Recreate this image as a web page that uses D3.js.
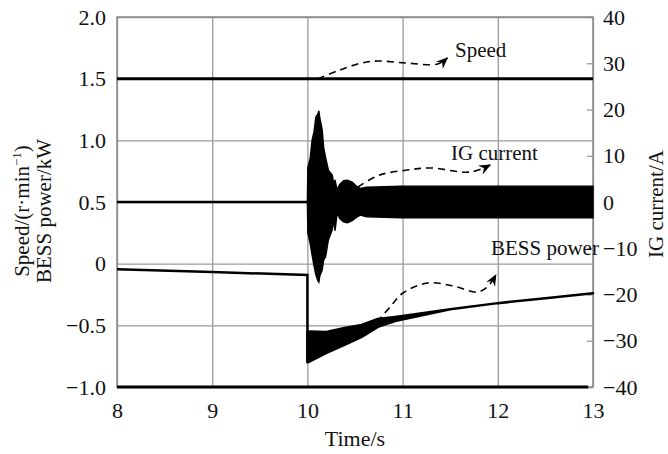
<!DOCTYPE html>
<html>
<head>
    <meta charset="utf-8">
    <title></title>
    <style>
        body { margin: 0; background: #fff; }
        text { font-family: "Liberation Serif", "Times New Roman", serif; fill: #111; }
        .grid line { stroke: #9a9a9a; stroke-width: 1.3px; }
        .grid path { display: none; }
    </style>
</head>
<body>
<script src="https://cdn.jsdelivr.net/npm/d3@7/dist/d3.min.js"></script>
<script>
    var width  = 668;
    var height = 454;

    // axes
    const timeTicks  = [8, 9, 10, 11, 12, 13];
    const leftTicks  = [-1.0, -0.5, 0, 0.5, 1.0, 1.5, 2.0];
    const rightTicks = [-40, -30, -20, -10, 0, 10, 20, 30, 40];

    // speed (left axis)
    const speedT = [8, 13];
    const speedV = [1.5, 1.5];

    // IG current (right axis) - steady line before fault, then envelope of the oscillation
    const igLineT = [8, 10];
    const igLineV = [0, 0];
    const igEnvT   = [10.0, 10.005, 10.03, 10.05, 10.07, 10.09, 10.11, 10.12, 10.13, 10.155, 10.17, 10.19, 10.22, 10.26, 10.28, 10.29, 10.31, 10.32, 10.34, 10.38, 10.42, 10.47, 10.51, 10.56, 10.62, 11.0, 12.0, 13.0];
    const igUpper  = [0, 7.4, 9.5, 13.4, 15.2, 18.4, 19.0, 19.7, 18.2, 15.6, 11.8, 9.7, 6.9, 5.8, 3.6, 4.8, 2.6, 3.0, 3.8, 4.6, 4.7, 4.3, 3.5, 2.9, 3.2, 3.4, 3.4, 3.4];
    const igLower  = [0, -6.7, -9.0, -11.5, -13.8, -15.8, -17.0, -17.3, -16.0, -14.7, -12.5, -11.9, -8.2, -6.0, -3.8, -6.2, -2.8, -2.6, -3.6, -4.3, -4.5, -4.0, -3.4, -2.8, -3.2, -3.4, -3.4, -3.4];

    // BESS power (left axis)
    const bessPreT = [8, 9, 10, 10];
    const bessPreV = [-0.045, -0.068, -0.092, -0.80];
    const bessEnvT  = [10.0, 10.02, 10.2, 10.39, 10.57, 10.74, 10.92, 11.13, 11.5, 12.0, 12.5, 13.0];
    const bessUpper = [-0.55, -0.551, -0.554, -0.521, -0.497, -0.448, -0.432, -0.41, -0.37, -0.32, -0.28, -0.24];
    const bessLower = [-0.80, -0.795, -0.724, -0.659, -0.594, -0.513, -0.465, -0.43, -0.37, -0.32, -0.28, -0.24];

    // trace lying on the bottom edge
    const baseT = [8, 12.95];
    const baseV = [-1.0, -1.0];

    // annotations (left axis units)
    const speedNoteT = [10.11, 10.34, 10.57, 10.74, 11.03, 11.37, 11.47];
    const speedNoteV = [1.50, 1.57, 1.627, 1.643, 1.627, 1.619, 1.668];
    const igNoteT = [10.53, 10.76, 11.05, 11.29, 11.71, 11.92];
    const igNoteV = [0.622, 0.719, 0.759, 0.776, 0.743, 0.80];
    const bessNoteT = [10.73, 10.87, 11.0, 11.26, 11.53, 11.78, 11.89, 11.98];
    const bessNoteV = [-0.473, -0.35, -0.24, -0.157, -0.18, -0.23, -0.19, -0.09];

    var margin = {left: 117, right: 75, top: 17, bottom: 67};
    var plotW = width - margin.left - margin.right;
    var plotH = height - margin.top - margin.bottom;

    var svg = d3.select("body").append("svg")
        .attr("width", width)
        .attr("height", height);

    var x  = d3.scaleLinear().domain([8, 13]).range([margin.left, margin.left + plotW]);
    var yL = d3.scaleLinear().domain([-1, 2]).range([margin.top + plotH, margin.top]);
    var yR = d3.scaleLinear().domain([-40, 40]).range([margin.top + plotH, margin.top]);

    var fmtL = function(d){ return d === 0 ? "0" : d3.format(".1f")(d); };

    // grids + tick labels
    svg.append("g").attr("class", "grid")
        .attr("transform", "translate(" + margin.left + ",0)")
        .call(d3.axisLeft(yL).tickValues(leftTicks).tickFormat(fmtL).tickSize(-plotW).tickPadding(11))
        .selectAll("text").attr("font-size", "22px");

    svg.append("g").attr("class", "grid")
        .attr("transform", "translate(0," + (margin.top + plotH) + ")")
        .call(d3.axisBottom(x).tickValues(timeTicks).tickFormat(d3.format("d")).tickSize(-plotH).tickPadding(15))
        .selectAll("text").attr("font-size", "22px");

    svg.append("g").attr("class", "grid")
        .attr("transform", "translate(" + (margin.left + plotW) + ",0)")
        .call(d3.axisRight(yR).tickValues(rightTicks).tickSize(-6).tickPadding(10))
        .selectAll("text").attr("font-size", "22px");

    // frame
    svg.append("rect")
        .attr("x", margin.left).attr("y", margin.top)
        .attr("width", plotW).attr("height", plotH)
        .attr("fill", "none").attr("stroke", "#8a8a8a").attr("stroke-width", 1.5);

    var zipL = function(ts, vs){ return ts.map(function(t,i){ return [x(t), yL(vs[i])]; }); };
    var zipR = function(ts, vs){ return ts.map(function(t,i){ return [x(t), yR(vs[i])]; }); };
    var line = d3.line();

    // traces
    svg.append("path").attr("d", line(zipL(baseT, baseV)))
        .attr("fill", "none").attr("stroke", "#000").attr("stroke-width", 3);

    svg.append("path").attr("d", line(zipL(speedT, speedV)))
        .attr("fill", "none").attr("stroke", "#000").attr("stroke-width", 3);

    svg.append("path").attr("d", line(zipR(igLineT, igLineV)))
        .attr("fill", "none").attr("stroke", "#000").attr("stroke-width", 2.5);

    var igArea = d3.area()
        .x(function(d){ return x(d.t); })
        .y0(function(d){ return yR(d.lo); })
        .y1(function(d){ return yR(d.hi); });
    svg.append("path")
        .attr("d", igArea(igEnvT.map(function(t,i){ return {t: t, hi: igUpper[i], lo: igLower[i]}; })))
        .attr("fill", "#000").attr("stroke", "#000").attr("stroke-width", 1.5);

    svg.append("path").attr("d", line(zipL(bessPreT, bessPreV)))
        .attr("fill", "none").attr("stroke", "#000").attr("stroke-width", 2.5);

    var bessArea = d3.area()
        .x(function(d){ return x(d.t); })
        .y0(function(d){ return yL(d.lo); })
        .y1(function(d){ return yL(d.hi); });
    svg.append("path")
        .attr("d", bessArea(bessEnvT.map(function(t,i){ return {t: t, hi: bessUpper[i], lo: bessLower[i]}; })))
        .attr("fill", "#000").attr("stroke", "#000").attr("stroke-width", 2.5).attr("stroke-linejoin", "round");

    // arrow marker
    svg.append("defs").append("marker")
        .attr("id", "arrow")
        .attr("viewBox", "-12 -6 14 12")
        .attr("refX", 0).attr("refY", 0)
        .attr("markerWidth", 14).attr("markerHeight", 12)
        .attr("markerUnits", "userSpaceOnUse")
        .attr("orient", "auto")
        .append("path")
        .attr("d", "M1,0 L-11,-5 L-7,0 L-11,5 Z")
        .attr("fill", "#000");

    var curve = d3.line().curve(d3.curveCatmullRom.alpha(0.5));
    [[speedNoteT, speedNoteV], [igNoteT, igNoteV], [bessNoteT, bessNoteV]].forEach(function(n){
        svg.append("path").attr("d", curve(zipL(n[0], n[1])))
            .attr("fill", "none").attr("stroke", "#000").attr("stroke-width", 1.6)
            .attr("stroke-dasharray", "7,5")
            .attr("marker-end", "url(#arrow)");
    });

    svg.append("text").attr("x", 455).attr("y", 57).attr("font-size", "21px").text("Speed");
    svg.append("text").attr("x", 451).attr("y", 160).attr("font-size", "21px").text("IG current");
    svg.append("text").attr("x", 491).attr("y", 255).attr("font-size", "21px").text("BESS power");

    // axis titles
    svg.append("text").attr("x", margin.left + plotW / 2).attr("y", 446)
        .attr("text-anchor", "middle").attr("font-size", "22px").text("Time/s");

    var t1 = svg.append("text")
        .attr("transform", "translate(29,211) rotate(-90)")
        .attr("text-anchor", "middle").attr("font-size", "21px");
    t1.append("tspan").text("Speed/(r\u00b7min");
    t1.append("tspan").attr("dy", -8).attr("font-size", "13px").text("\u22121");
    t1.append("tspan").attr("dy", 8).text(")");

    svg.append("text")
        .attr("transform", "translate(51,211) rotate(-90)")
        .attr("text-anchor", "middle").attr("font-size", "21px").text("BESS power/kW");

    svg.append("text")
        .attr("transform", "translate(663,204) rotate(-90)")
        .attr("text-anchor", "middle").attr("font-size", "21px").text("IG current/A");
</script>
</body>
</html>
